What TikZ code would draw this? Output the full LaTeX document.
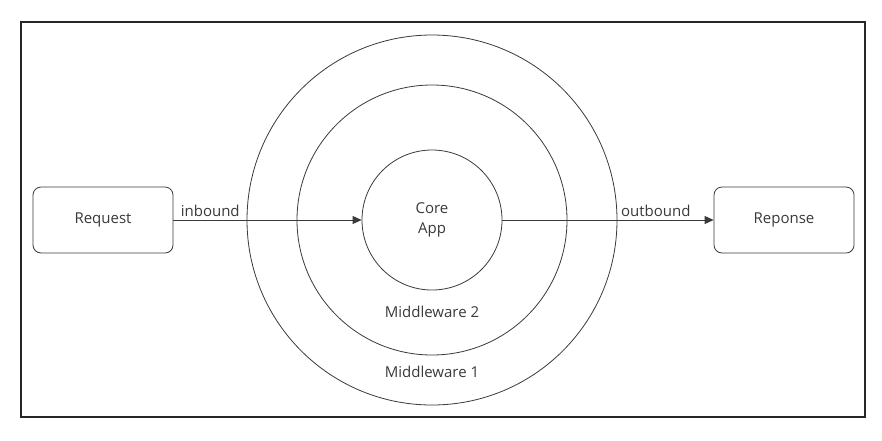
\documentclass[tikz,border=0pt]{standalone}
\usepackage{fontspec}
\setmainfont{Open Sans}
\usetikzlibrary{arrows.meta}
\definecolor{ink}{HTML}{3A3A3A}
\begin{document}
\begin{tikzpicture}[x=1pt,y=-1pt,
  every node/.style={font=\fontsize{15}{18}\selectfont, text=ink},
  endbox/.style={draw=ink, line width=0.8pt, rounded corners=8pt, minimum width=140pt, minimum height=66pt, inner sep=0pt},
  ring/.style={draw=ink, line width=0.8pt, circle, inner sep=0pt},
  flow/.style={draw=ink, line width=0.8pt, -{Triangle[length=9pt,width=8pt]}},
  lbl/.style={inner sep=1pt}
]
\useasboundingbox[fill=white] (0,0) rectangle (882,440);
\draw[line width=2.2pt, draw=black!85] (21,22) rectangle (865,417);

% nested layers around the core
\node[ring, minimum size=370pt] (mw1) at (432,220) {};
\node[ring, minimum size=270pt] (mw2) at (432,220) {};
\node[ring, minimum size=140pt, align=center, font=\fontsize{15}{20}\selectfont] (core) at (432,220) {Core\\App};

\node[lbl] (mw2lbl) at (432,312) {Middleware 2};
\node[lbl] (mw1lbl) at (432,372) {Middleware 1};

% request and response
\node[endbox] (req) at (103,220) {Request};
\node[endbox] (res) at (784,220) {Reponse};

\draw[flow] (req.east) -- node[lbl, pos=0, anchor=south west, xshift=6pt, yshift=2pt] (inlbl) {inbound} (core.west);
\draw[flow] (core.east) -- node[lbl, pos=0.555, anchor=south west, yshift=2pt] (outlbl) {outbound} (res.west);
\end{tikzpicture}
\end{document}
